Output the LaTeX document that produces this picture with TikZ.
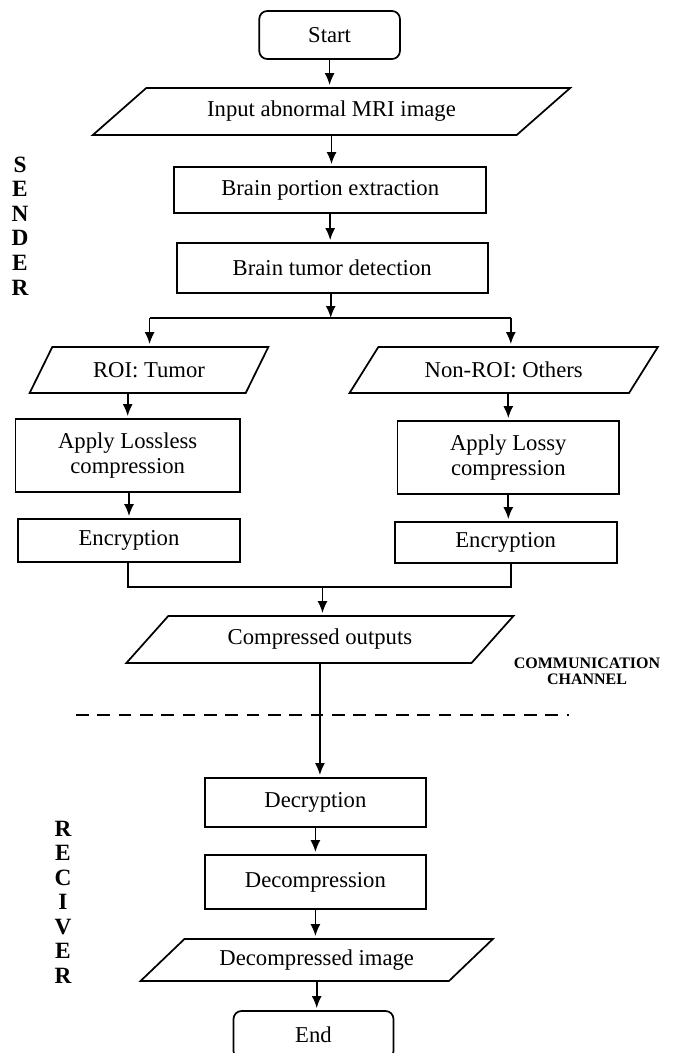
\documentclass[tikz,border=0pt]{standalone}
\usepackage{fontspec}
\setmainfont{Liberation Serif}
\usetikzlibrary{arrows.meta,shapes.geometric,calc}
\tikzstyle{term}=[rectangle,rounded corners=6pt,draw=black,line width=1.3pt,inner sep=2pt]
\tikzstyle{proc}=[rectangle,draw=black,line width=1.3pt,inner sep=2pt,align=center]
\tikzstyle{io}=[trapezium,trapezium stretches body=true,draw=black,line width=1.3pt,inner sep=2pt]
\tikzstyle{arr}=[-{Latex[length=9pt,width=7.5pt]},line width=1.3pt,shorten >=1.5pt]
\tikzstyle{lane}=[font=\bfseries\fontsize{17.5}{18.4}\selectfont,align=center,inner sep=0pt]

\begin{document}
\begin{tikzpicture}[x=0.75pt,y=-0.75pt,font=\fontsize{17}{19}\selectfont]
    \useasboundingbox (0,0) rectangle (675,1053);
    % sender side
    \node [term,minimum width=105.5pt,minimum height=36pt] (start) at (329.6,35) {Start};
    \node [io,trapezium left angle=25.9,trapezium right angle=154.1,
      minimum width=358pt,minimum height=35.25pt] (inp) at (331.5,111.5) {Input abnormal MRI image};
    \node [proc,minimum width=234.2pt,minimum height=34.5pt] (portion) at (330.2,190) {Brain portion extraction};
    \node [proc,minimum width=233.2pt,minimum height=37.5pt] (tumor) at (332.2,268) {Brain tumor detection};
    \node [io,trapezium left angle=42.4,trapezium right angle=137.6,
      minimum width=179pt,minimum height=34.5pt] (roi) at (149,370) {ROI: Tumor};
    \node [io,trapezium left angle=36.6,trapezium right angle=143.4,
      minimum width=231.2pt,minimum height=34.5pt] (nonroi) at (503.7,370) {Non-ROI: Others};
    \node [proc,minimum width=168.4pt,minimum height=54.75pt] (lossless) at (127.7,455.5) {Apply Lossless\\compression};
    \node [proc,minimum width=166.4pt,minimum height=54.75pt] (lossy) at (508.3,457.5) {Apply Lossy\\compression};
    \node [proc,minimum width=166.4pt,minimum height=32.25pt] (encL) at (129,540.5) {Encryption};
    \node [proc,minimum width=166.4pt,minimum height=30.75pt] (encR) at (505.7,542.5) {Encryption};
    \node [io,trapezium left angle=31.7,trapezium right angle=148.3,
      minimum width=290.3pt,minimum height=35.25pt] (comp) at (319.9,639.5) {Compressed outputs};
    % receiver side
    \node [proc,minimum width=165.5pt,minimum height=36.75pt] (decrypt) at (315.4,802.5) {Decryption};
    \node [proc,minimum width=165.5pt,minimum height=40.5pt] (decomp) at (315.4,882) {Decompression};
    \node [io,trapezium left angle=30.6,trapezium right angle=149.4,
      minimum width=264.2pt,minimum height=31.5pt] (outimg) at (316.7,960) {Decompressed image};
    \node [term,minimum width=120pt,minimum height=36pt] (stop) at (313.5,1035) {End};
    % side labels
    \node [lane] (sender) at (20,226) {S\\E\\N\\D\\E\\R};
    \node [lane] (receiver) at (63,902) {R\\E\\C\\I\\V\\E\\R};
    \node [font=\bfseries\fontsize{12}{12}\selectfont,align=center,inner sep=0pt] (channel) at (587,671) {COMMUNICATION\\CHANNEL};
    \coordinate (fork) at (330.7,318);
    \coordinate (forkL) at (149.6,318);
    \coordinate (forkR) at (510.8,318);
    \coordinate (joinL) at (127.7,587);
    \coordinate (joinR) at (510.8,587);
    \coordinate (join) at (322.5,587);
    \coordinate (chanL) at (76,715);
    \coordinate (chanR) at (569,715);
    % connectors
    \draw [arr] (start.south) -- (start.south |- inp.north);
    \draw [arr] (inp.south) -- (inp.south |- portion.north);
    \draw [arr] (portion.south) -- (portion.south |- tumor.north);
    \draw [arr,shorten >=0pt] (tumor.south -| fork) -- (fork);
    \draw [line width=1.3pt] (forkL) -- (forkR);
    \draw [arr] (forkL) -- (forkL |- roi.north);
    \draw [arr] (forkR) -- (forkR |- nonroi.north);
    \draw [arr] (lossless.north |- roi.south) -- (lossless.north);
    \draw [arr] (lossy.north |- nonroi.south) -- (lossy.north);
    \draw [arr] (encL.north |- lossless.south) -- (encL.north);
    \draw [arr] (lossy.south) -- (lossy.south |- encR.north);
    \draw [line width=1.3pt] (encL.south -| joinL) -- (joinL) -- (joinR) -- (encR.south -| joinR);
    \draw [arr] (join) -- (join |- comp.north);
    \draw [line width=1.6pt,dash pattern=on 9.5pt off 6.5pt] (chanL) -- (chanR);
    \draw [arr] (comp.south) -- (comp.south |- decrypt.north);
    \draw [arr] (decrypt.south) -- (decrypt.south |- decomp.north);
    \draw [arr] (decomp.south) -- (decomp.south |- outimg.north);
    \draw [arr] (outimg.south) -- (outimg.south |- stop.north);
\end{tikzpicture}
\end{document}
